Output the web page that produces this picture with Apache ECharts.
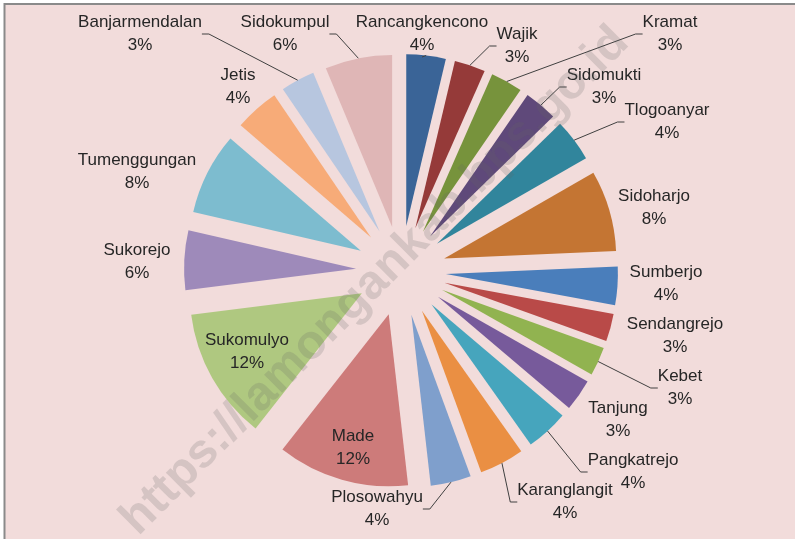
<!DOCTYPE html>
<html>
<head>
<meta charset="utf-8">
<script src="https://cdn.jsdelivr.net/npm/echarts@6/dist/echarts.min.js"></script>
<style>
  html, body { margin: 0; padding: 0; background: #fff; }
  #chart { width: 795px; height: 539px; }
</style>
</head>
<body>
<div id="chart"></div>
<script>
// desa / kelurahan, clockwise from 12 o'clock
var categories = ['Rancangkencono', 'Wajik', 'Kramat', 'Sidomukti', 'Tlogoanyar', 'Sidoharjo',
  'Sumberjo', 'Sendangrejo', 'Kebet', 'Tanjung', 'Pangkatrejo', 'Karanglangit',
  'Plosowahyu', 'Made', 'Sukomulyo', 'Sukorejo', 'Tumenggungan', 'Jetis',
  'Banjarmendalan', 'Sidokumpul'];
// share in percent
var values = [3.7, 2.9, 3.0, 3.1, 4.0, 7.6,
  3.6, 2.6, 2.7, 3.0, 4.0, 4.2,
  3.8, 12.4, 12.4, 5.6, 7.7, 4.2,
  3.2, 6.3];

// styling / layout
var colors = ['#3a6497', '#953a39', '#77933c', '#5f497a', '#31859c', '#c47533',
  '#4a7ebb', '#b94a48', '#91b350', '#775a9b', '#46a5bd', '#ea8f43',
  '#7f9fcc', '#cd7b7a', '#afc880', '#9e8aba', '#7dbccf', '#f7ab78',
  '#b7c6df', '#dfb6b6'];
// label centre [x, y] and whether a leader line is drawn
var labelPos = [[422, 34], [517, 46], [670, 34], [604, 87], [667, 122], [654, 208],
  [666, 284], [675, 336], [680, 388], [618, 420], [633, 472], [565, 502],
  [377, 509], [353, 448], [247, 352], [137, 262], [137, 172], [238, 87],
  [140, 34], [285, 34]];
var hasLine = [1, 1, 1, 1, 1, 0, 0, 0, 1, 0, 1, 1, 1, 0, 0, 0, 0, 0, 1, 1];

var CENTER = [401, 271];
var R = 172;
var EXPLODE = 45;

var chart = echarts.init(document.getElementById('chart'));

var sliceData = categories.map(function (name, i) {
  return { name: name, value: values[i], selected: true, itemStyle: { color: colors[i] } };
});

// transparent copy reaching the exploded outer edge, only used to carry labels
var labelData = categories.map(function (name, i) {
  return { name: name, value: values[i], labelLine: { show: !!hasLine[i] } };
});

var option = {
  animation: false,
  backgroundColor: '#fff',
  graphic: [
    {
      type: 'rect', z: -10, silent: true,
      shape: { x: 4.5, y: 4, width: 820, height: 560 },
      style: { fill: '#f2dcdb', stroke: '#8a8a8a', lineWidth: 2 }
    },
    {
      type: 'text', z: 100, silent: true,
      x: 375, y: 281, rotation: Math.PI / 4,
      style: {
        text: 'https://lamongankab.bps.go.id',
        font: 'bold 48px "Liberation Sans", Arial, sans-serif',
        fill: 'rgba(100,100,100,0.2)',
        align: 'center', verticalAlign: 'middle'
      }
    }
  ],
  series: [
    {
      type: 'pie',
      z: 2,
      center: CENTER,
      radius: [0, R],
      startAngle: 90,
      clockwise: true,
      selectedMode: 'multiple',
      selectedOffset: EXPLODE,
      silent: true,
      label: { show: false },
      labelLine: { show: false },
      data: sliceData
    },
    {
      type: 'pie',
      z: 3,
      center: CENTER,
      radius: [0, R + EXPLODE],
      startAngle: 90,
      clockwise: true,
      silent: true,
      avoidLabelOverlap: false,
      itemStyle: { color: 'rgba(0,0,0,0)' },
      label: {
        show: true,
        position: 'outside',
        formatter: function (p) {
          return p.name + '\n' + Math.round(p.percent) + '%';
        },
        color: '#262626',
        fontFamily: '"Liberation Sans", Arial, sans-serif',
        fontSize: 17,
        lineHeight: 23,
        align: 'center'
      },
      labelLine: {
        length: 8,
        length2: 7,
        lineStyle: { color: '#404040', width: 1 }
      },
      labelLayout: function (params) {
        var pos = labelPos[params.dataIndex];
        return { x: pos[0], y: pos[1], align: 'center', verticalAlign: 'middle' };
      },
      data: labelData
    }
  ]
};

chart.setOption(option);
</script>
</body>
</html>
